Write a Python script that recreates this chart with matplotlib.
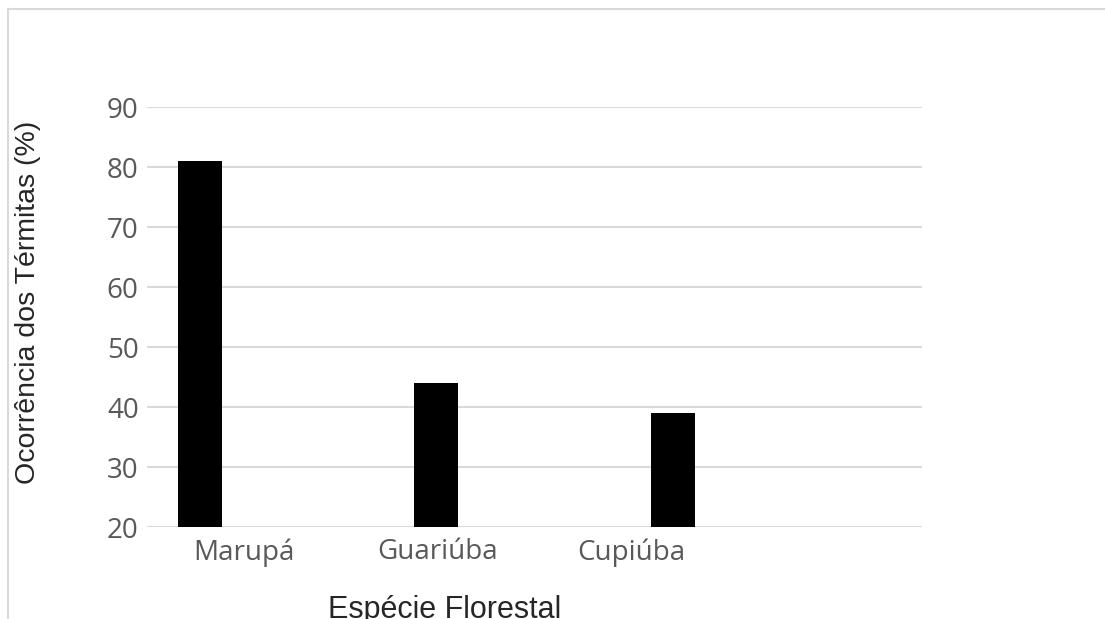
#termite occurrence by forest species - bar chart

#imports
import numpy as np
import matplotlib.pyplot as plt
from matplotlib.lines import Line2D

#data
especies   = ['Marupá', 'Guariúba', 'Cupiúba']   #forest species
ocorrencia = [81, 44, 39]                        #termite occurrence (%)
yticks     = [20, 30, 40, 50, 60, 70, 80, 90]

W, H = 1105, 619
fig = plt.figure(figsize=(W / 100, H / 100), dpi=100)
ax  = fig.add_axes([147 / W, 1 - 527 / H, (922 - 147) / W, (527 - 107) / H])

#bars
x = np.arange(len(especies))
ax.bar(x, ocorrencia, width=0.186, bottom=0, color='black', zorder=3)

ax.set_ylim(20, 90)
ax.set_yticks(yticks)
x0, x1 = -0.224, 3.053
ax.set_xlim(x0, x1)

#category labels sit in four equal slots across the axis (last slot empty)
slot = (x1 - x0) / 4
ax.set_xticks([x0 + (i + 0.5) * slot for i in range(len(especies))])
ax.set_xticklabels(especies)

ax.grid(axis='y', color='#d9d9d9', linewidth=1.5, zorder=0)
for s in ax.spines.values():
    s.set_visible(False)
ax.tick_params(length=0, labelsize=20, labelcolor='#595959')
ax.tick_params(axis='x', pad=8)
ax.tick_params(axis='y', pad=6)
for lab in ax.get_xticklabels() + ax.get_yticklabels():
    lab.set_fontfamily('Open Sans')

#axis titles
fig.text(28 / W, 1 - 302 / H, 'Ocorrência dos Térmitas (%)', rotation=90,
         ha='center', va='center', fontsize=20.5, color='#262626',
         family='Liberation Sans')
fig.text(445 / W, 1 / H, 'Espécie Florestal', ha='center', va='baseline',
         fontsize=22, color='#262626', family='Liberation Sans')

#chart area border (left and top)
fig.add_artist(Line2D([8 / W, 8 / W], [0, 1 - 9 / H], transform=fig.transFigure,
                      color='#d9d9d9', linewidth=1.5))
fig.add_artist(Line2D([8 / W, 1], [1 - 9 / H, 1 - 9 / H], transform=fig.transFigure,
                      color='#d9d9d9', linewidth=1.5))

fig.savefig('out.png', dpi=100)
